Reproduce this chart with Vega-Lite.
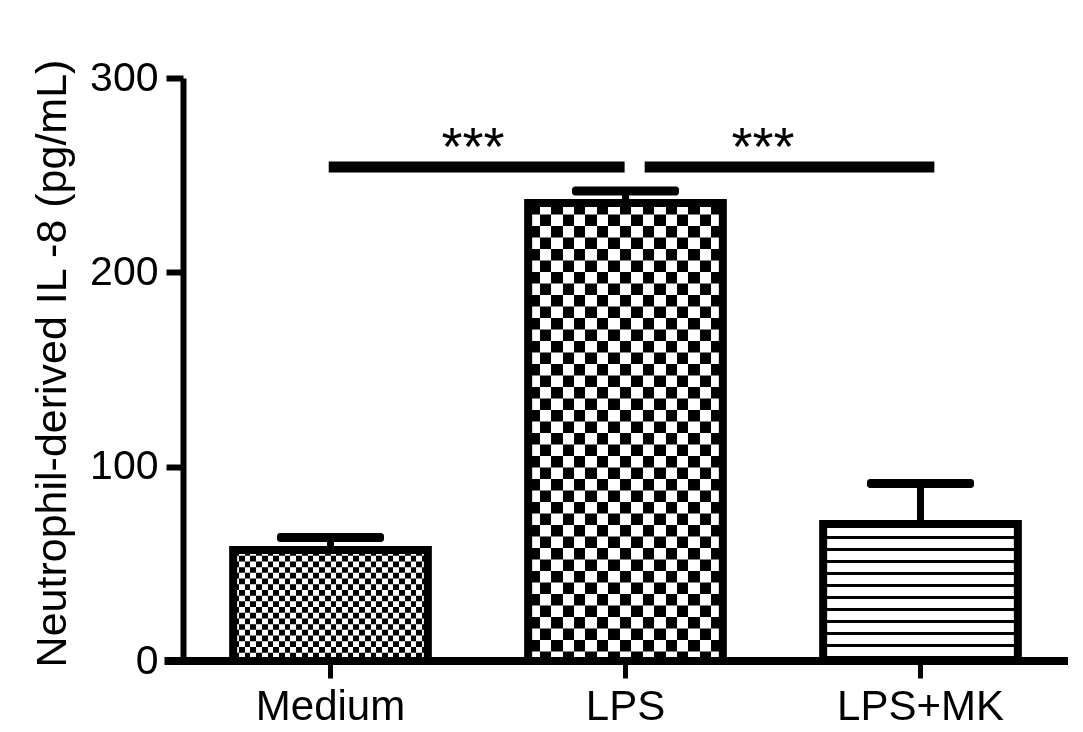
{
  "$schema": "https://vega.github.io/schema/vega-lite/v6.json",
  "width": 885,
  "height": 583,
  "autosize": {"type": "none"},
  "padding": {"left": 183, "top": 78, "right": 15, "bottom": 71},
  "background": "white",
  "config": {
    "view": {"stroke": null},
    "font": "Liberation Sans",
    "axis": {"grid": false}
  },
  "datasets": {
    "groups": [
      {"group": "Medium", "mean": 57.1, "upper": 63.6},
      {"group": "LPS", "mean": 235.7, "upper": 241.9},
      {"group": "LPS+MK", "mean": 70.5, "upper": 91.4}
    ],
    "sig": [
      {"start": 0.494, "end": 1.497, "y": 254.2, "mid": 0.983, "label": "***"},
      {"start": 1.565, "end": 2.547, "y": 254.2, "mid": 1.966, "label": "***"}
    ]
  },
  "layer": [
    {
      "data": {"name": "groups"},
      "encoding": {
        "x": {
          "field": "group",
          "type": "nominal",
          "scale": {"domain": ["Medium", "LPS", "LPS+MK"], "paddingInner": 0.34, "paddingOuter": 0.17},
          "axis": {
            "title": null,
            "domain": false,
            "labelAngle": 0,
            "labelFontSize": 42,
            "labelColor": "black",
            "labelPadding": 8,
            "tickSize": 17,
            "tickWidth": 5,
            "tickColor": "black"
          }
        },
        "y": {
          "field": "mean",
          "type": "quantitative",
          "title": "Neutrophil-derived IL -8 (pg/mL)",
          "scale": {"domain": [0, 300], "nice": false},
          "axis": {
            "values": [0, 100, 200, 300],
            "domainWidth": 6,
            "domainColor": "black",
            "tickWidth": 6,
            "tickSize": 17,
            "tickColor": "black",
            "labelFontSize": 41,
            "labelColor": "black",
            "labelPadding": 8,
            "titleFontSize": 43,
            "titleFontWeight": "normal",
            "titleColor": "black",
            "titlePadding": 15,
            "titleY": 285
          }
        }
      },
      "layer": [
        {"mark": {"type": "bar", "color": "white"}},
        {
          "transform": [{"filter": "datum.group === 'LPS+MK'"}],
          "mark": {"type": "rule", "strokeWidth": 195, "strokeDash": [3, 9], "color": "black"},
          "encoding": {"y2": {"datum": 0}}
        },
        {
          "transform": [{"filter": "datum.group === 'LPS'"}],
          "mark": {"type": "rule", "strokeWidth": 195, "strokeDash": [11.5, 11.5], "color": "black"},
          "encoding": {"y2": {"datum": 0}}
        },
        {
          "transform": [{"filter": "datum.group === 'LPS'"}],
          "mark": {
            "type": "bar",
            "blend": "difference",
            "color": {
              "gradient": "linear", "x1": 0, "y1": 0, "x2": 1, "y2": 0,
              "stops": [
                {"offset": 0, "color": "#000"},
                {"offset": 0.05882, "color": "#000"}, {"offset": 0.05882, "color": "#fff"},
                {"offset": 0.11765, "color": "#fff"}, {"offset": 0.11765, "color": "#000"},
                {"offset": 0.17647, "color": "#000"}, {"offset": 0.17647, "color": "#fff"},
                {"offset": 0.23529, "color": "#fff"}, {"offset": 0.23529, "color": "#000"},
                {"offset": 0.29412, "color": "#000"}, {"offset": 0.29412, "color": "#fff"},
                {"offset": 0.35294, "color": "#fff"}, {"offset": 0.35294, "color": "#000"},
                {"offset": 0.41176, "color": "#000"}, {"offset": 0.41176, "color": "#fff"},
                {"offset": 0.47059, "color": "#fff"}, {"offset": 0.47059, "color": "#000"},
                {"offset": 0.52941, "color": "#000"}, {"offset": 0.52941, "color": "#fff"},
                {"offset": 0.58824, "color": "#fff"}, {"offset": 0.58824, "color": "#000"},
                {"offset": 0.64706, "color": "#000"}, {"offset": 0.64706, "color": "#fff"},
                {"offset": 0.70588, "color": "#fff"}, {"offset": 0.70588, "color": "#000"},
                {"offset": 0.76471, "color": "#000"}, {"offset": 0.76471, "color": "#fff"},
                {"offset": 0.82353, "color": "#fff"}, {"offset": 0.82353, "color": "#000"},
                {"offset": 0.88235, "color": "#000"}, {"offset": 0.88235, "color": "#fff"},
                {"offset": 0.94118, "color": "#fff"}, {"offset": 0.94118, "color": "#000"},
                {"offset": 1, "color": "#000"}
              ]
            }
          }
        },
        {
          "transform": [{"filter": "datum.group === 'Medium'"}],
          "mark": {"type": "rule", "strokeWidth": 195, "strokeDash": [5.7, 5.7], "color": "black"},
          "encoding": {"y2": {"datum": 0}}
        },
        {
          "transform": [{"filter": "datum.group === 'Medium'"}],
          "mark": {
            "type": "bar",
            "blend": "difference",
            "color": {
              "gradient": "linear", "x1": 0, "y1": 0, "x2": 1, "y2": 0,
              "stops": [
                {"offset": 0, "color": "#000"},
                {"offset": 0.02941, "color": "#000"}, {"offset": 0.02941, "color": "#fff"},
                {"offset": 0.05882, "color": "#fff"}, {"offset": 0.05882, "color": "#000"},
                {"offset": 0.08824, "color": "#000"}, {"offset": 0.08824, "color": "#fff"},
                {"offset": 0.11765, "color": "#fff"}, {"offset": 0.11765, "color": "#000"},
                {"offset": 0.14706, "color": "#000"}, {"offset": 0.14706, "color": "#fff"},
                {"offset": 0.17647, "color": "#fff"}, {"offset": 0.17647, "color": "#000"},
                {"offset": 0.20588, "color": "#000"}, {"offset": 0.20588, "color": "#fff"},
                {"offset": 0.23529, "color": "#fff"}, {"offset": 0.23529, "color": "#000"},
                {"offset": 0.26471, "color": "#000"}, {"offset": 0.26471, "color": "#fff"},
                {"offset": 0.29412, "color": "#fff"}, {"offset": 0.29412, "color": "#000"},
                {"offset": 0.32353, "color": "#000"}, {"offset": 0.32353, "color": "#fff"},
                {"offset": 0.35294, "color": "#fff"}, {"offset": 0.35294, "color": "#000"},
                {"offset": 0.38235, "color": "#000"}, {"offset": 0.38235, "color": "#fff"},
                {"offset": 0.41176, "color": "#fff"}, {"offset": 0.41176, "color": "#000"},
                {"offset": 0.44118, "color": "#000"}, {"offset": 0.44118, "color": "#fff"},
                {"offset": 0.47059, "color": "#fff"}, {"offset": 0.47059, "color": "#000"},
                {"offset": 0.5, "color": "#000"}, {"offset": 0.5, "color": "#fff"},
                {"offset": 0.52941, "color": "#fff"}, {"offset": 0.52941, "color": "#000"},
                {"offset": 0.55882, "color": "#000"}, {"offset": 0.55882, "color": "#fff"},
                {"offset": 0.58824, "color": "#fff"}, {"offset": 0.58824, "color": "#000"},
                {"offset": 0.61765, "color": "#000"}, {"offset": 0.61765, "color": "#fff"},
                {"offset": 0.64706, "color": "#fff"}, {"offset": 0.64706, "color": "#000"},
                {"offset": 0.67647, "color": "#000"}, {"offset": 0.67647, "color": "#fff"},
                {"offset": 0.70588, "color": "#fff"}, {"offset": 0.70588, "color": "#000"},
                {"offset": 0.73529, "color": "#000"}, {"offset": 0.73529, "color": "#fff"},
                {"offset": 0.76471, "color": "#fff"}, {"offset": 0.76471, "color": "#000"},
                {"offset": 0.79412, "color": "#000"}, {"offset": 0.79412, "color": "#fff"},
                {"offset": 0.82353, "color": "#fff"}, {"offset": 0.82353, "color": "#000"},
                {"offset": 0.85294, "color": "#000"}, {"offset": 0.85294, "color": "#fff"},
                {"offset": 0.88235, "color": "#fff"}, {"offset": 0.88235, "color": "#000"},
                {"offset": 0.91176, "color": "#000"}, {"offset": 0.91176, "color": "#fff"},
                {"offset": 0.94118, "color": "#fff"}, {"offset": 0.94118, "color": "#000"},
                {"offset": 0.97059, "color": "#000"}, {"offset": 0.97059, "color": "#fff"},
                {"offset": 1, "color": "#fff"}
              ]
            }
          }
        },
        {"mark": {"type": "bar", "fill": "transparent", "stroke": "black", "strokeWidth": 8}},
        {
          "mark": {"type": "rule", "strokeWidth": 7, "color": "black"},
          "encoding": {"y2": {"field": "upper"}}
        },
        {
          "mark": {"type": "tick", "size": 107, "thickness": 9, "color": "black", "opacity": 1, "cornerRadius": 3},
          "encoding": {
            "y": {"field": "upper", "type": "quantitative", "title": "Neutrophil-derived IL -8 (pg/mL)"}
          }
        }
      ]
    },
    {
      "data": {"name": "sig"},
      "layer": [
        {
          "mark": {"type": "rule", "strokeWidth": 11, "color": "black"},
          "encoding": {
            "x": {"field": "start", "type": "quantitative", "scale": {"domain": [0, 3], "nice": false, "zero": false}, "axis": null},
            "x2": {"field": "end"},
            "y": {"field": "y", "type": "quantitative", "title": "Neutrophil-derived IL -8 (pg/mL)"}
          }
        },
        {
          "mark": {"type": "text", "fontSize": 54, "dy": -2, "baseline": "alphabetic", "align": "center", "color": "black"},
          "encoding": {
            "x": {"field": "mid", "type": "quantitative", "axis": null},
            "y": {"field": "y", "type": "quantitative", "title": "Neutrophil-derived IL -8 (pg/mL)"},
            "text": {"field": "label"}
          }
        },
        {
          "mark": {"type": "rule", "strokeWidth": 8, "color": "black"},
          "encoding": {
            "x": {"datum": -0.062, "type": "quantitative", "axis": null},
            "x2": {"datum": 3},
            "y": {"datum": 0, "type": "quantitative", "title": "Neutrophil-derived IL -8 (pg/mL)"}
          }
        }
      ]
    }
  ],
  "resolve": {"scale": {"x": "independent"}, "axis": {"x": "independent"}}
}
